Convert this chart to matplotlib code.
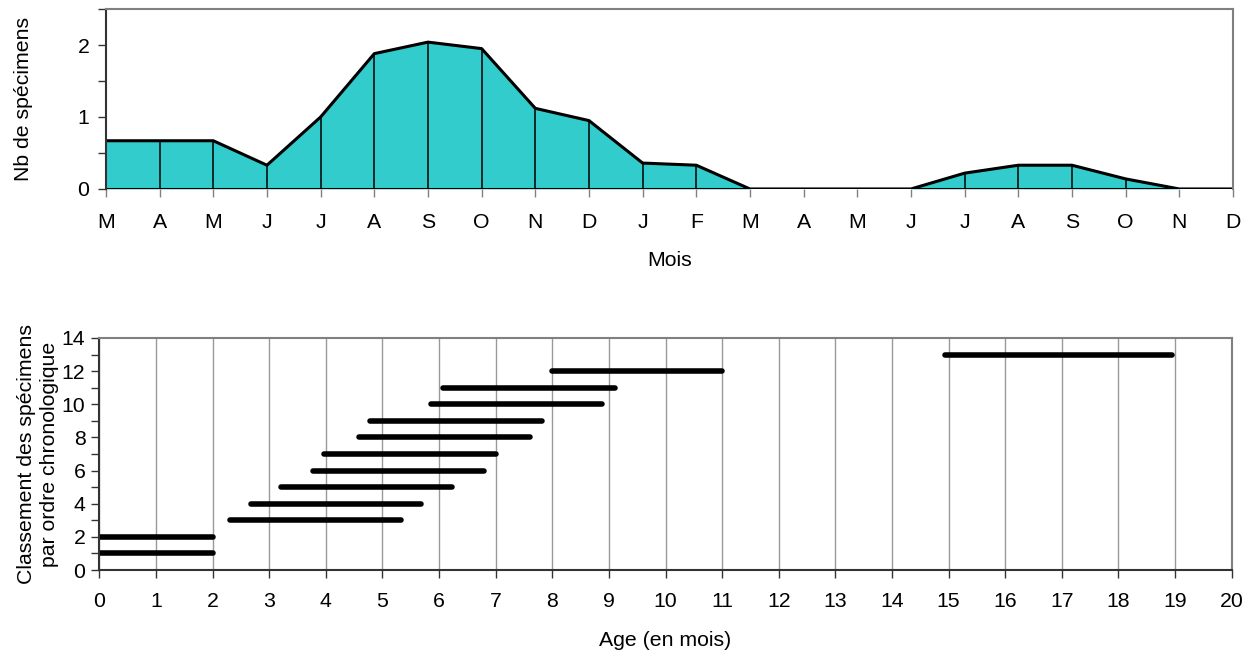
import numpy as np
import matplotlib
matplotlib.use("Agg")
import matplotlib.pyplot as plt
from matplotlib.ticker import MultipleLocator

plt.rcParams["font.family"] = ["Liberation Sans", "DejaVu Sans"]
plt.rcParams["font.size"] = 15.3

# Top chart: monthly specimen counts
months = ["M", "A", "M", "J", "J", "A", "S", "O", "N", "D", "J",
          "F", "M", "A", "M", "J", "J", "A", "S", "O", "N", "D"]
counts = [0.67, 0.67, 0.67, 0.33, 1.0, 1.88, 2.04, 1.95, 1.12, 0.95, 0.36,
          0.33, 0.0, 0.0, 0.0, 0.0, 0.22, 0.33, 0.33, 0.14, 0.0, 0.0]

# Bottom chart: age ranges per specimen (in months)
ranks = [1, 2, 3, 4, 5, 6, 7, 8, 9, 10, 11, 12, 13]
age_start = [0.0, 0.0, 2.31, 2.67, 3.2, 3.77, 3.97, 4.58, 4.78, 5.86, 6.07, 8.0, 14.93]
age_end = [2.0, 2.0, 5.33, 5.69, 6.23, 6.8, 7.0, 7.6, 7.81, 8.88, 9.1, 11.0, 18.95]

fig = plt.figure(figsize=(12.51, 6.53), dpi=100)

teal = "#33CCCC"
gray = "#808080"

# ---- top: area chart ----
ax1 = fig.add_axes([0.0847, 0.7106, 0.9009, 0.2756])
x = np.arange(len(months))
ax1.fill_between(x, counts, 0, color=teal, linewidth=0)
ax1.plot(x, counts, color="black", linewidth=2.2, solid_joinstyle="round")
ax1.vlines(x, 0, counts, color="black", linewidth=1.1)
ax1.axhline(0, color="black", linewidth=2.2)
ax1.set_xlim(0, len(months) - 1)
ax1.set_ylim(0, 2.5)
ax1.set_xticks(x)
ax1.set_xticklabels(months)
ax1.yaxis.set_major_locator(MultipleLocator(1))
ax1.yaxis.set_minor_locator(MultipleLocator(0.5))
ax1.tick_params(axis="x", length=6, width=1, color=gray, pad=11)
ax1.tick_params(axis="y", which="both", length=6, width=1, color="#333333", pad=6)
ax1.set_xlabel("Mois", labelpad=14)
ax1.set_ylabel("Nb de spécimens", labelpad=32)
for side in ["top", "right"]:
    ax1.spines[side].set_color(gray)
    ax1.spines[side].set_linewidth(1.5)
ax1.spines["left"].set_color("#333333")
ax1.spines["left"].set_linewidth(1.5)
ax1.spines["bottom"].set_visible(False)

# ---- bottom: age ranges ----
ax2 = fig.add_axes([0.0794, 0.127, 0.9052, 0.3554])
ax2.hlines(ranks, age_start, age_end, color="black", linewidth=4.0, capstyle="round")
ax2.set_xlim(0, 20)
ax2.set_ylim(0, 14)
ax2.xaxis.set_major_locator(MultipleLocator(1))
ax2.yaxis.set_major_locator(MultipleLocator(2))
ax2.yaxis.set_minor_locator(MultipleLocator(1))
ax2.grid(axis="x", color="#999999", linewidth=1.0)
ax2.set_axisbelow(True)
ax2.tick_params(axis="x", length=6, width=1, color="#333333", pad=10)
ax2.tick_params(axis="y", which="both", length=6, width=1, color="#333333", pad=4)
ax2.set_xlabel("Age (en mois)", labelpad=14)
ax2.set_ylabel("Classement des spécimens\npar ordre chronologique", labelpad=2,
               linespacing=1.3)
for side in ["top", "right"]:
    ax2.spines[side].set_color(gray)
    ax2.spines[side].set_linewidth(1.5)
for side in ["left", "bottom"]:
    ax2.spines[side].set_color("#333333")
    ax2.spines[side].set_linewidth(1.5)

fig.savefig("out.png", dpi=100)
